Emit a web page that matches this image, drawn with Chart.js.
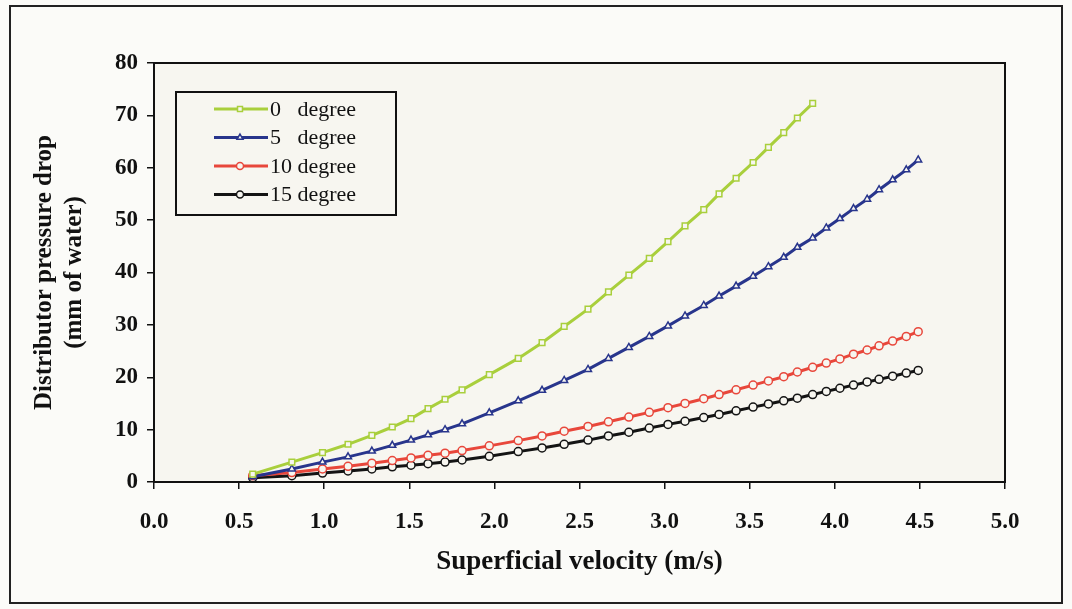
<!DOCTYPE html>
<html>
<head>
    <title>Distributor pressure drop</title>
    <script src="https://cdn.jsdelivr.net/npm/chart.js"></script>
    <style>
        html, body { margin: 0; padding: 0; background: #fbfbf8; }
        #chartContainer { width: 1072px; height: 609px; }
    </style>
</head>
<body>
    <div id="chartContainer">
        <canvas id="myChart" width="1072" height="609"></canvas>
    </div>
    <script>
        // velocidad superficial (m/s), compartida por las cuatro series
        const velocity = [0.58, 0.81, 0.99, 1.14, 1.28, 1.40, 1.51, 1.61, 1.71, 1.81,
            1.97, 2.14, 2.28, 2.41, 2.55, 2.67, 2.79, 2.91, 3.02, 3.12, 3.23, 3.32,
            3.42, 3.52, 3.61, 3.70, 3.78, 3.87, 3.95, 4.03, 4.11, 4.19, 4.26, 4.34, 4.42, 4.49];

        const seriesNames = ['0   degree', '5   degree', '10 degree', '15 degree'];

        const deg0 = [1.5, 3.8, 5.6, 7.2, 8.9, 10.5, 12.1, 14.0, 15.8, 17.6, 20.5, 23.6, 26.6,
            29.7, 33.0, 36.3, 39.5, 42.7, 45.9, 48.9, 52.0, 55.0, 58.0, 61.0, 63.9, 66.7, 69.5, 72.3];
        const deg5 = [1.0, 2.5, 3.8, 4.8, 5.9, 7.0, 8.0, 9.0, 10.0, 11.1, 13.2, 15.5, 17.5, 19.4,
            21.5, 23.6, 25.7, 27.8, 29.8, 31.7, 33.7, 35.5, 37.4, 39.3, 41.1, 42.9, 44.8, 46.6,
            48.5, 50.3, 52.2, 54.0, 55.8, 57.7, 59.6, 61.5];
        const deg10 = [1.2, 1.8, 2.5, 3.0, 3.6, 4.1, 4.6, 5.1, 5.5, 6.0, 6.9, 7.9, 8.8, 9.7,
            10.6, 11.5, 12.4, 13.3, 14.2, 15.0, 15.9, 16.7, 17.6, 18.5, 19.3, 20.1, 21.0, 21.9,
            22.7, 23.5, 24.4, 25.2, 26.0, 26.9, 27.8, 28.7];
        const deg15 = [0.8, 1.2, 1.7, 2.1, 2.5, 2.9, 3.2, 3.5, 3.8, 4.2, 4.9, 5.8, 6.5, 7.2,
            8.0, 8.8, 9.5, 10.3, 11.0, 11.6, 12.3, 12.9, 13.6, 14.3, 14.9, 15.5, 16.0, 16.7,
            17.3, 17.9, 18.5, 19.1, 19.6, 20.2, 20.8, 21.3];

        const xTicks = [0, 0.5, 1, 1.5, 2, 2.5, 3, 3.5, 4, 4.5, 5];
        const yTicks = [0, 10, 20, 30, 40, 50, 60, 70, 80];

        const serif = "'Liberation Serif', 'Times New Roman', serif";
        const plotBg = '#f7f6f0';

        function toPoints(values) {
            return values.map((v, i) => ({ x: velocity[i], y: v }));
        }

        const styles = [
            { color: '#a9cf3c', point: 'rect' },
            { color: '#28358c', point: 'triangle' },
            { color: '#e8473b', point: 'circle' },
            { color: '#141414', point: 'circle' }
        ];

        const datasets = [deg0, deg5, deg10, deg15].map((values, i) => ({
            label: seriesNames[i],
            data: toPoints(values),
            borderColor: styles[i].color,
            backgroundColor: plotBg,
            pointStyle: styles[i].point,
            pointRadius: 4,
            pointBorderWidth: 1.5,
            pointBorderColor: styles[i].color,
            pointBackgroundColor: plotBg,
            borderWidth: 3,
            tension: 0
        }));

        // fondo del area de trazado, marco y leyenda dibujada a mano
        const framePlugin = {
            id: 'framePlugin',
            beforeDraw(chart) {
                const { ctx, chartArea: a } = chart;
                ctx.save();
                ctx.fillStyle = plotBg;
                ctx.fillRect(a.left, a.top, a.right - a.left, a.bottom - a.top);
                ctx.restore();
            },
            afterDraw(chart) {
                const { ctx, chartArea: a } = chart;
                ctx.save();
                ctx.strokeStyle = '#111';
                ctx.lineWidth = 2;
                ctx.strokeRect(a.left, a.top, a.right - a.left, a.bottom - a.top);
                ctx.strokeStyle = '#222';
                ctx.strokeRect(10, 6, chart.width - 20, chart.height - 12);

                // leyenda
                const bx = a.left + 22, by = a.top + 29, bw = 220, bh = 123;
                ctx.fillStyle = plotBg;
                ctx.fillRect(bx, by, bw, bh);
                ctx.strokeStyle = '#111';
                ctx.lineWidth = 2;
                ctx.strokeRect(bx, by, bw, bh);
                ctx.font = '22px ' + serif;
                ctx.textBaseline = 'middle';
                ctx.textAlign = 'left';
                chart.data.datasets.forEach((ds, i) => {
                    const y = by + 17 + i * 28.5;
                    ctx.strokeStyle = ds.borderColor;
                    ctx.lineWidth = 3;
                    ctx.beginPath();
                    ctx.moveTo(bx + 38, y);
                    ctx.lineTo(bx + 92, y);
                    ctx.stroke();
                    ctx.lineWidth = 1.5;
                    ctx.fillStyle = plotBg;
                    Chart.helpers.drawPoint(ctx, { pointStyle: ds.pointStyle, radius: 3.5, borderWidth: 1.5 }, bx + 64, y);
                    ctx.fillStyle = '#111';
                    ctx.fillText(ds.label, bx + 94, y + 1);
                });
                ctx.restore();
            }
        };

        const ctx = document.getElementById('myChart').getContext('2d');
        const myChart = new Chart(ctx, {
            type: 'line',
            data: { datasets: datasets },
            plugins: [framePlugin],
            options: {
                responsive: false,
                animation: false,
                layout: { padding: { left: 0, right: 67, top: 63, bottom: 30 } },
                plugins: {
                    legend: { display: false },
                    tooltip: { enabled: false }
                },
                scales: {
                    x: {
                        type: 'linear',
                        min: 0,
                        max: 5,
                        afterBuildTicks(scale) {
                            scale.ticks = xTicks.map(v => ({ value: v }));
                        },
                        afterFit(scale) { scale.height = 609 - 482 - 30; },
                        grid: { drawOnChartArea: false, drawTicks: true, tickLength: 7, color: '#111', lineWidth: 1.5 },
                        border: { display: true, color: '#111', width: 2 },
                        ticks: {
                            color: '#111',
                            padding: 19,
                            maxRotation: 0,
                            font: { family: serif, size: 23, weight: 'bold' },
                            callback: v => Number(v).toFixed(1)
                        },
                        title: {
                            display: true,
                            text: 'Superficial velocity (m/s)',
                            color: '#111',
                            padding: { top: 2, bottom: 1 },
                            font: { family: serif, size: 27, weight: 'bold', lineHeight: 1.2 }
                        }
                    },
                    y: {
                        min: 0,
                        max: 80,
                        afterBuildTicks(scale) {
                            scale.ticks = yTicks.map(v => ({ value: v }));
                        },
                        afterFit(scale) { scale.width = 154; },
                        grid: { drawOnChartArea: false, drawTicks: true, tickLength: 7, color: '#111', lineWidth: 1.5 },
                        border: { display: true, color: '#111', width: 2 },
                        ticks: {
                            color: '#111',
                            padding: 9,
                            font: { family: serif, size: 23, weight: 'bold' }
                        },
                        title: {
                            display: true,
                            text: ['Distributor pressure drop', '(mm of water)'],
                            color: '#111',
                            padding: { top: 30, bottom: 4 },
                            font: { family: serif, size: 25, weight: 'bold', lineHeight: 1.2 }
                        }
                    }
                }
            }
        });
    </script>
</body>
</html>
